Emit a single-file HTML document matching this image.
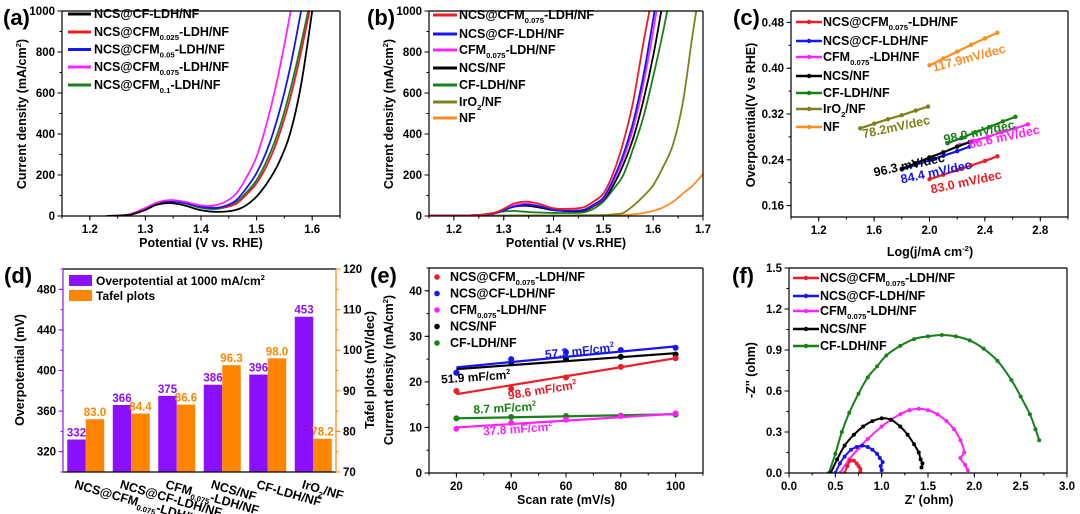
<!DOCTYPE html>
<html><head><meta charset="utf-8">
<style>
html,body{margin:0;padding:0;background:#fff;}
svg{display:block;font-family:"Liberation Sans",Arial,sans-serif;font-weight:bold;}
</style></head>
<body>
<svg id="fig" width="1080" height="514" viewBox="0 0 1080 514" xmlns="http://www.w3.org/2000/svg"></svg>
<script>
// ---------- DATA ----------
// Panel (a)
const aV = [1.23,1.27,1.30,1.32,1.345,1.37,1.40,1.43,1.46,1.48,1.50,1.52,1.54,1.56,1.58,1.60,1.62];
const aBlack   = [0,5,30,55,63,52,28,20,28,50,95,165,260,400,640,1000,1400];
const aRed     = [0,6,35,60,75,65,50,40,55,100,160,255,390,570,800,1070,1400];
const aBlue    = [0,6,35,60,72,64,45,40,70,130,210,330,500,720,1000,1300,1600];
const aMagenta = [0,8,40,65,78,70,52,55,100,180,290,470,700,980,1280,1600,1900];
const aGreen   = [0,6,35,58,70,62,40,35,60,110,175,280,420,610,840,1100,1400];
const aLabels = ["NCS@CF-LDH/NF","NCS@CFM_{0.025}-LDH/NF","NCS@CFM_{0.05}-LDH/NF","NCS@CFM_{0.075}-LDH/NF","NCS@CFM_{0.1}-LDH/NF"];
// Panel (b)
const bV = [1.15,1.20,1.25,1.28,1.30,1.32,1.345,1.37,1.40,1.43,1.46,1.48,1.50,1.52,1.54,1.56,1.58,1.60,1.62,1.64,1.66,1.68,1.70];
const bRed     = [2,2,5,15,35,60,70,60,38,35,42,70,110,210,360,560,840,1100,1400,1600,1800,2000,2200];
const bBlue    = [2,2,5,12,28,45,55,48,30,25,30,55,90,180,300,460,680,960,1250,1500,1700,1900,2100];
const bMagenta = [2,2,5,12,30,50,60,50,32,27,30,52,85,170,280,430,640,900,1200,1450,1650,1850,2050];
const bBlack   = [2,2,5,12,28,45,50,42,28,24,26,48,80,150,250,380,560,780,1050,1300,1500,1700,1900];
const bGreen   = [2,2,5,15,22,25,20,17,15,15,18,35,70,130,200,330,480,680,900,1150,1400,1600,1800];
const bOlive   = [2,2,2,2,3,3,3,3,3,3,4,4,5,8,15,50,95,150,240,350,560,900,1200];
const bOrange  = [2,2,2,2,2,2,2,2,2,2,2,3,3,4,5,8,14,25,42,70,110,150,205];
const bLabels = ["NCS@CFM_{0.075}-LDH/NF","NCS@CF-LDH/NF","CFM_{0.075}-LDH/NF","NCS/NF","CF-LDH/NF","IrO_{2}/NF","NF"];
// Panel (c)
const cRedX = [2.00,2.10,2.20,2.30,2.40,2.49];      const cRedY = [0.206,0.214,0.222,0.230,0.238,0.246];
const cBlueX = [1.80,1.90,2.00,2.10,2.20,2.29];     const cBlueY = [0.223,0.231,0.239,0.247,0.255,0.263];
const cMagX = [2.22,2.32,2.42,2.52,2.62,2.71];      const cMagY = [0.266,0.273,0.280,0.288,0.295,0.302];
const cBlackX = [1.80,1.90,2.00,2.10,2.20,2.29];    const cBlackY = [0.224,0.234,0.244,0.253,0.263,0.271];
const cGreenX = [2.13,2.23,2.33,2.43,2.53,2.62];    const cGreenY = [0.269,0.278,0.288,0.297,0.307,0.315];
const cOliveX = [1.50,1.60,1.70,1.80,1.90,1.99];    const cOliveY = [0.295,0.303,0.311,0.318,0.326,0.333];
const cOrangeX = [2.00,2.10,2.20,2.30,2.40,2.49];   const cOrangeY = [0.405,0.417,0.429,0.441,0.452,0.462];
const cLabels = ["NCS@CFM_{0.075}-LDH/NF","NCS@CF-LDH/NF","CFM_{0.075}-LDH/NF","NCS/NF","CF-LDH/NF","IrO_{2}/NF","NF"];
const cSlopes = ["83.0 mV/dec","84.4 mV/dec","86.6 mV/dec","96.3 mV/dec","98.0 mV/dec","78.2mV/dec","117.9mV/dec"];
// Panel (d)
const dCats = ["NCS@CFM_{0.075}-LDH/NF","NCS@CF-LDH/NF","CFM_{0.075}-LDH/NF","NCS/NF","CF-LDH/NF","IrO_{2}/NF"];
const dOver = [332,366,375,386,396,453];
const dTafel = [83.0,84.4,86.6,96.3,98.0,78.2];
// Panel (e)
const eRate = [20,40,60,80,100];
const eRed = [18.0,18.5,21.0,23.3,25.2];     const eRedFit = [17.3,25.2];
const eBlue = [22.0,25.0,26.5,27.0,27.5];    const eBlueFit = [23.2,27.8];
const eMag = [9.7,11.0,11.7,12.5,13.1];      const eMagFit = [10.0,13.0];
const eBlack = [22.0,24.3,25.0,25.5,26.0];   const eBlackFit = [22.8,26.3];
const eGreen = [12.0,12.3,12.5,12.6,12.8];   const eGreenFit = [12.0,12.9];
const eLabels = ["NCS@CFM_{0.075}-LDH/NF","NCS@CF-LDH/NF","CFM_{0.075}-LDH/NF","NCS/NF","CF-LDH/NF"];
// Panel (f)
const fRedX = [0.60,0.63,0.66,0.70,0.73,0.75,0.77,0.77];
const fRedY = [0.00,0.05,0.09,0.09,0.07,0.05,0.03,0.01];
const fBlueX = [0.50,0.55,0.60,0.67,0.73,0.79,0.85,0.90,0.95,0.98,1.01,0.99,1.00];
const fBlueY = [0.00,0.07,0.12,0.17,0.19,0.20,0.19,0.17,0.14,0.11,0.08,0.05,0.02];
const fBlackX = [0.45,0.52,0.60,0.70,0.80,0.90,1.00,1.10,1.20,1.28,1.35,1.40,1.42,1.44,1.43];
const fBlackY = [0.00,0.10,0.20,0.28,0.34,0.38,0.40,0.39,0.34,0.28,0.21,0.15,0.10,0.07,0.04];
const fMagX = [0.55,0.65,0.75,0.85,1.00,1.10,1.20,1.30,1.40,1.50,1.60,1.70,1.78,1.85,1.89,1.85,1.90,1.93];
const fMagY = [0.00,0.10,0.18,0.25,0.34,0.39,0.43,0.46,0.47,0.46,0.43,0.38,0.32,0.24,0.15,0.11,0.06,0.02];
const fGreenX = [0.43,0.50,0.57,0.65,0.75,0.85,0.95,1.05,1.20,1.35,1.50,1.65,1.80,1.95,2.10,2.25,2.40,2.50,2.60,2.66,2.70];
const fGreenY = [0.00,0.14,0.30,0.44,0.58,0.70,0.78,0.86,0.93,0.98,1.00,1.01,1.00,0.97,0.91,0.82,0.68,0.56,0.43,0.32,0.24];
const fLabels = ["NCS@CFM_{0.075}-LDH/NF","NCS@CF-LDH/NF","CFM_{0.075}-LDH/NF","NCS/NF","CF-LDH/NF"];

// ---------- HELPERS ----------
const NS = 'http://www.w3.org/2000/svg';
const svg = document.getElementById('fig');
const C = {red:'#ee1c25',blue:'#1515f5',mag:'#ff22ff',black:'#000',green:'#178017',olive:'#80801a',orange:'#ff8c1f',purple:'#8b10ff',barOrange:'#ff8400'};
function mk(tag, attrs, parent, name){
  const e = document.createElementNS(NS, tag);
  for (const k in attrs) e.setAttribute(k, attrs[k]);
  
  
  (parent || svg).appendChild(e);
  return e;
}
function lin(d0,d1,r0,r1){ return v => r0 + (v-d0)/(d1-d0)*(r1-r0); }
function rich(p, x, y, s, o, name){
  const t = mk('text', Object.assign({x:x,y:y,'font-size':12,fill:'#000'}, o||{}), p, name);
  const fs = +(o && o['font-size'] || 12);
  const re = /([_^])\{([^}]*)\}|[^_^]+/g; let m, shift=0;
  while ((m = re.exec(s))){
    const ts = document.createElementNS(NS,'tspan');
    if (m[1]){
      const d = m[1]==='_' ? fs*0.3 : -fs*0.4;
      ts.setAttribute('dy', d - shift); shift = d;
      ts.setAttribute('font-size', fs*0.62);
      ts.textContent = m[2];
    } else {
      if (shift){ ts.setAttribute('dy', -shift); shift = 0; }
      ts.textContent = m[0];
    }
    t.appendChild(ts);
  }
  return t;
}
function smooth(pts){
  let d = 'M'+pts[0][0]+','+pts[0][1];
  for (let i=0;i<pts.length-1;i++){
    const p0=pts[Math.max(0,i-1)], p1=pts[i], p2=pts[i+1], p3=pts[Math.min(pts.length-1,i+2)];
    const c1=[p1[0]+(p2[0]-p0[0])/6, p1[1]+(p2[1]-p0[1])/6];
    const c2=[p2[0]-(p3[0]-p1[0])/6, p2[1]-(p3[1]-p1[1])/6];
    d += ' C'+c1[0]+','+c1[1]+' '+c2[0]+','+c2[1]+' '+p2[0]+','+p2[1];
  }
  return d;
}
let clipN = 0;
function panel(P, name){
  const g = mk('g', {}, svg, name);
  const id = 'clip'+(clipN++);
  const cp = mk('clipPath', {id:id}, g, name+'-clip');
  mk('rect', {x:P.x0, y:P.y0, width:P.x1-P.x0, height:P.y1-P.y0}, cp, name+'-clip-rect');
  const plot = mk('g', {'clip-path':'url(#'+id+')'}, g, name+'-plot-area');
  return {g, plot};
}
function frame(g, P, name, leftColor, rightColor){
  mk('line',{x1:P.x0,y1:P.y0,x2:P.x1,y2:P.y0,stroke:'#000','stroke-width':1.2},g,name+'-top-border');
  mk('line',{x1:P.x0,y1:P.y1,x2:P.x1,y2:P.y1,stroke:'#000','stroke-width':1.2},g,name+'-x-axis-line');
  mk('line',{x1:P.x0,y1:P.y0,x2:P.x0,y2:P.y1,stroke:leftColor||'#000','stroke-width':1.2},g,name+'-y-axis-line');
  mk('line',{x1:P.x1,y1:P.y0,x2:P.x1,y2:P.y1,stroke:rightColor||'#000','stroke-width':1.2},g,name+'-right-border');
}
function xTicks(g, P, sx, ticks, minors, fmt, name){
  minors.forEach(v=>{ mk('line',{x1:sx(v),y1:P.y1,x2:sx(v),y2:P.y1+2.5,stroke:'#000','stroke-width':1},g,name+'-x-minor-tick'); });
  ticks.forEach(v=>{
    mk('line',{x1:sx(v),y1:P.y1,x2:sx(v),y2:P.y1+4.5,stroke:'#000','stroke-width':1},g,name+'-x-tick');
    const t = mk('text',{x:sx(v),y:P.y1+17,'text-anchor':'middle','font-size':11.5},g,name+'-x-tick-label');
    t.textContent = fmt(v);
  });
}
function yTicks(g, P, sy, ticks, minors, fmt, name, side, color){
  const x = side==='right' ? P.x1 : P.x0, dir = side==='right' ? 1 : -1;
  minors.forEach(v=>{ mk('line',{x1:x,y1:sy(v),x2:x+dir*2.5,y2:sy(v),stroke:color||'#000','stroke-width':1},g,name+'-y-minor-tick'); });
  ticks.forEach(v=>{
    mk('line',{x1:x,y1:sy(v),x2:x+dir*4.5,y2:sy(v),stroke:color||'#000','stroke-width':1},g,name+'-y-tick');
    const t = mk('text',{x:x+dir*7,y:sy(v)+4,'text-anchor':side==='right'?'start':'end','font-size':11.5},g,name+'-y-tick-label');
    t.textContent = fmt(v);
  });
}
function range(a,b,s){ const r=[]; for(let v=a; v<=b+1e-9; v+=s) r.push(+v.toFixed(6)); return r; }
function title(g, x, y, s, rot, name, fs){
  const o = {'text-anchor':'middle','font-size':fs||12.5};
  if (rot) o.transform = 'rotate(-90 '+x+' '+y+')';
  return rich(g, x, y, s, o, name);
}
function panelLabel(x,y,s,name){ const t = mk('text',{x:x,y:y,'font-size':22},svg,name); t.textContent=s; }

// ---------- PANEL A ----------
(function(){
  const P={x0:62,x1:340,y0:11,y1:216};
  const sx=lin(1.15,1.65,P.x0,P.x1), sy=lin(0,1000,P.y1,P.y0);
  const {g,plot}=panel(P,'panel-a');
  const series=[[aGreen,C.green],[aRed,C.red],[aBlue,C.blue],[aMagenta,C.mag],[aBlack,C.black]];
  const names=['curve-cfm-0.1','curve-cfm-0.025','curve-cfm-0.05','curve-cfm-0.075','curve-cf-ldh'];
  series.forEach((s,i)=>{
    mk('path',{d:smooth(aV.map((v,j)=>[sx(v),sy(s[0][j])])),fill:'none',stroke:s[1],'stroke-width':1.8},plot,names[i]);
  });
  frame(g,P,'panel-a');
  xTicks(g,P,sx,range(1.2,1.6,0.1),range(1.15,1.65,0.05),v=>v.toFixed(1),'panel-a');
  yTicks(g,P,sy,range(0,1000,200),range(0,1000,100),v=>String(v),'panel-a');
  title(g,201,247,'Potential (V  vs. RHE)',false,'panel-a-x-axis-title');
  title(g,26,114,'Current density (mA/cm^{2})',true,'panel-a-y-axis-title');
  const cols=[C.black,C.red,C.blue,C.mag,C.green], ys=[18,36,53.5,71,89];
  aLabels.forEach((l,i)=>{
    mk('line',{x1:68,y1:ys[i]-4,x2:91,y2:ys[i]-4,stroke:cols[i],'stroke-width':3},g,'legend-a-swatch');
    rich(g,94,ys[i],l,{'font-size':12.5},'legend-a-entry');
  });
  panelLabel(3,25,'(a)','panel-a-label');
})();

// ---------- PANEL B ----------
(function(){
  const P={x0:429,x1:703,y0:11,y1:216};
  const sx=lin(1.15,1.7,P.x0,P.x1), sy=lin(0,1000,P.y1,P.y0);
  const {g,plot}=panel(P,'panel-b');
  const series=[[bOrange,C.orange],[bOlive,C.olive],[bGreen,C.green],[bBlack,C.black],[bMagenta,C.mag],[bBlue,C.blue],[bRed,C.red]];
  const names=['curve-nf','curve-iro2','curve-cf-ldh','curve-ncs','curve-cfm-0.075','curve-ncs-cf-ldh','curve-ncs-cfm-0.075'];
  series.forEach((s,i)=>{
    mk('path',{d:smooth(bV.map((v,j)=>[sx(v),sy(s[0][j])])),fill:'none',stroke:s[1],'stroke-width':1.8},plot,names[i]);
  });
  frame(g,P,'panel-b');
  xTicks(g,P,sx,range(1.2,1.7,0.1),range(1.15,1.7,0.05),v=>v.toFixed(1),'panel-b');
  yTicks(g,P,sy,range(0,1000,200),range(0,1000,100),v=>String(v),'panel-b');
  title(g,566,247,'Potential (V vs.RHE)',false,'panel-b-x-axis-title');
  title(g,393,114,'Current density (mA/cm^{2})',true,'panel-b-y-axis-title');
  const cols=[C.red,C.blue,C.mag,C.black,C.green,C.olive,C.orange], ys=[19,38,54,72,89,106,122];
  bLabels.forEach((l,i)=>{
    mk('line',{x1:433,y1:ys[i]-4,x2:457,y2:ys[i]-4,stroke:cols[i],'stroke-width':3},g,'legend-b-swatch');
    rich(g,459,ys[i],l,{'font-size':12.5},'legend-b-entry');
  });
  panelLabel(367,25,'(b)','panel-b-label');
})();

// ---------- PANEL C ----------
(function(){
  const P={x0:791,x1:1068,y0:11,y1:217};
  const sx=lin(1.0,3.0,P.x0,P.x1), sy=lin(0.14,0.50,P.y1,P.y0);
  const {g,plot}=panel(P,'panel-c');
  const series=[[cRedX,cRedY,C.red],[cBlueX,cBlueY,C.blue],[cMagX,cMagY,C.mag],[cBlackX,cBlackY,C.black],[cGreenX,cGreenY,C.green],[cOliveX,cOliveY,C.olive],[cOrangeX,cOrangeY,C.orange]];
  const names=['tafel-ncs-cfm-0.075','tafel-ncs-cf-ldh','tafel-cfm-0.075','tafel-ncs','tafel-cf-ldh','tafel-iro2','tafel-nf'];
  series.forEach((s,i)=>{
    mk('polyline',{points:s[0].map((x,j)=>sx(x)+','+sy(s[1][j])).join(' '),fill:'none',stroke:s[2],'stroke-width':2.2},plot,names[i]);
    s[0].forEach((x,j)=>{ mk('circle',{cx:sx(x),cy:sy(s[1][j]),r:2.2,fill:s[2]},plot,names[i]+'-point'); });
  });
  frame(g,P,'panel-c');
  xTicks(g,P,sx,range(1.2,2.8,0.4),range(1.0,3.0,0.2),v=>v.toFixed(1),'panel-c');
  yTicks(g,P,sy,range(0.16,0.48,0.08),range(0.16,0.48,0.04),v=>v.toFixed(2),'panel-c');
  title(g,930,256,'Log(j/mA cm^{-2})',false,'panel-c-x-axis-title');
  title(g,755,115,'Overpotential(V vs RHE)',true,'panel-c-y-axis-title');
  const cols=[C.red,C.blue,C.mag,C.black,C.green,C.olive,C.orange], ys=[26,45,61,80,97,113,131];
  cLabels.forEach((l,i)=>{
    mk('line',{x1:796,y1:ys[i]-4,x2:822,y2:ys[i]-4,stroke:cols[i],'stroke-width':2.5},g,'legend-c-swatch');
    mk('circle',{cx:809,cy:ys[i]-4,r:2.2,fill:cols[i]},g,'legend-c-marker');
    rich(g,823,ys[i],l,{'font-size':12.5},'legend-c-entry');
  });
  const lp=[[967,186,-12],[937,176,-12],[1005,141,-12],[910,169,-12],[980,136,-12],[897,131,-12],[970,62,-15]];
  cSlopes.forEach((s,i)=>{
    const t=mk('text',{x:lp[i][0],y:lp[i][1],'text-anchor':'middle','font-size':12.5,fill:cols[i],transform:'rotate('+lp[i][2]+' '+lp[i][0]+' '+lp[i][1]+')'},g,'slope-label');
    t.textContent=s;
  });
  panelLabel(733,25,'(c)','panel-c-label');
})();

// ---------- PANEL D ----------
(function(){
  const P={x0:63,x1:336,y0:269,y1:472};
  const sy=lin(300,500,P.y1,P.y0), sy2=lin(70,120,P.y1,P.y0);
  const band=(P.x1-P.x0)/dCats.length, bw=18.5;
  const cx=i=>P.x0+band*(i+0.5);
  const {g,plot}=panel(P,'panel-d');
  dOver.forEach((v,i)=>{
    mk('rect',{x:cx(i)-bw,y:sy(v),width:bw,height:P.y1-sy(v),fill:C.purple},plot,'bar-overpotential');
    const t=mk('text',{x:cx(i)-bw/2,y:sy(v)-3,'text-anchor':'middle','font-size':11.5,fill:C.purple},g,'bar-overpotential-value');
    t.textContent=String(v);
  });
  dTafel.forEach((v,i)=>{
    mk('rect',{x:cx(i),y:sy2(v),width:bw,height:P.y1-sy2(v),fill:C.barOrange},plot,'bar-tafel');
    const t=mk('text',{x:cx(i)+bw/2,y:sy2(v)-3,'text-anchor':'middle','font-size':11.5,fill:C.barOrange},g,'bar-tafel-value');
    t.textContent=v.toFixed(1);
  });
  frame(g,P,'panel-d',C.purple,C.barOrange);
  yTicks(g,P,sy,range(320,480,40),range(300,500,20),v=>String(v),'panel-d','left',C.purple);
  yTicks(g,P,sy2,range(70,120,10),range(70,120,5),v=>String(v),'panel-d-right','right',C.barOrange);
  dCats.forEach((c,i)=>{
    const x=cx(i)-12, y=488;
    rich(g,x,y,c,{'font-size':12.5,transform:'rotate(16 '+x+' '+y+')'},'panel-d-category-label');
  });
  title(g,24,370,'Overpotential (mV)',true,'panel-d-y-axis-title');
  title(g,374,370,'Tafel plots (mV/dec)',true,'panel-d-right-axis-title');
  mk('rect',{x:69,y:275,width:23,height:11,fill:C.purple},g,'legend-d-swatch-overpotential');
  rich(g,96,285,'Overpotential at 1000 mA/cm^{2}',{'font-size':12},'legend-d-entry');
  mk('rect',{x:69,y:290,width:23,height:11,fill:C.barOrange},g,'legend-d-swatch-tafel');
  rich(g,96,300,'Tafel plots',{'font-size':12},'legend-d-entry');
  panelLabel(4,283,'(d)','panel-d-label');
})();

// ---------- PANEL E ----------
(function(){
  const P={x0:429,x1:703,y0:268,y1:473};
  const sx=lin(10,110,P.x0,P.x1), sy=lin(0,45,P.y1,P.y0);
  const {g,plot}=panel(P,'panel-e');
  const series=[[eGreen,eGreenFit,C.green],[eMag,eMagFit,C.mag],[eBlack,eBlackFit,C.black],[eRed,eRedFit,C.red],[eBlue,eBlueFit,C.blue]];
  const names=['cdl-cf-ldh','cdl-cfm-0.075','cdl-ncs','cdl-ncs-cfm-0.075','cdl-ncs-cf-ldh'];
  series.forEach((s,i)=>{
    mk('line',{x1:sx(eRate[0]),y1:sy(s[1][0]),x2:sx(eRate[eRate.length-1]),y2:sy(s[1][1]),stroke:s[2],'stroke-width':2.2},plot,names[i]+'-fit');
    eRate.forEach((r,j)=>{ mk('circle',{cx:sx(r),cy:sy(s[0][j]),r:3,fill:s[2]},plot,names[i]+'-point'); });
  });
  frame(g,P,'panel-e');
  xTicks(g,P,sx,range(20,100,20),range(10,110,10),v=>String(v),'panel-e');
  yTicks(g,P,sy,range(0,40,10),range(0,45,5),v=>String(v),'panel-e');
  title(g,566,504,'Scan rate (mV/s)',false,'panel-e-x-axis-title');
  title(g,393,370,'Current density (mA/cm^{2})',true,'panel-e-y-axis-title');
  const cols=[C.red,C.blue,C.mag,C.black,C.green], ys=[281,297.5,314,330.5,347];
  eLabels.forEach((l,i)=>{
    mk('circle',{cx:437,cy:ys[i]-4,r:2.8,fill:cols[i]},g,'legend-e-marker');
    rich(g,450,ys[i],l,{'font-size':12.5},'legend-e-entry');
  });
  const lab=[['57.3 mF/cm^{2}',C.blue,580,355,-6],['51.9 mF/cm^{2}',C.black,476,381,-4],['98.6 mF/cm^{2}',C.red,543,394,-9],['8.7 mF/cm^{2}',C.green,505,412,-3],['37.8 mF/cm^{2}',C.mag,518,433,-4]];
  lab.forEach(l=>{ rich(g,l[2],l[3],l[0],{'font-size':12,fill:l[1],'text-anchor':'middle',transform:'rotate('+l[4]+' '+l[2]+' '+l[3]+')'},'capacitance-label'); });
  panelLabel(370,283,'(e)','panel-e-label');
})();

// ---------- PANEL F ----------
(function(){
  const P={x0:789,x1:1067,y0:268,y1:473};
  const sx=lin(0,3.0,P.x0,P.x1), sy=lin(0,1.5,P.y1,P.y0);
  const {g,plot}=panel(P,'panel-f');
  const series=[[fGreenX,fGreenY,C.green],[fMagX,fMagY,C.mag],[fBlackX,fBlackY,C.black],[fBlueX,fBlueY,C.blue],[fRedX,fRedY,C.red]];
  const names=['nyquist-cf-ldh','nyquist-cfm-0.075','nyquist-ncs','nyquist-ncs-cf-ldh','nyquist-ncs-cfm-0.075'];
  series.forEach((s,i)=>{
    mk('path',{d:smooth(s[0].map((x,j)=>[sx(x),sy(s[1][j])])),fill:'none',stroke:s[2],'stroke-width':2},plot,names[i]);
    s[0].forEach((x,j)=>{ mk('circle',{cx:sx(x),cy:sy(s[1][j]),r:2,fill:s[2]},plot,names[i]+'-point'); });
  });
  frame(g,P,'panel-f');
  xTicks(g,P,sx,range(0,3,0.5),range(0,3,0.25),v=>v.toFixed(1),'panel-f');
  yTicks(g,P,sy,range(0,1.5,0.3),range(0,1.5,0.15),v=>v.toFixed(1),'panel-f');
  title(g,929,504,"Z' (ohm)",false,'panel-f-x-axis-title');
  title(g,755,370,"-Z'' (ohm)",true,'panel-f-y-axis-title');
  const cols=[C.red,C.blue,C.mag,C.black,C.green], ys=[282,300,315,333,350];
  fLabels.forEach((l,i)=>{
    mk('line',{x1:793,y1:ys[i]-4,x2:819,y2:ys[i]-4,stroke:cols[i],'stroke-width':2.5},g,'legend-f-swatch');
    mk('circle',{cx:806,cy:ys[i]-4,r:2.2,fill:cols[i]},g,'legend-f-marker');
    rich(g,820,ys[i],l,{'font-size':12.5},'legend-f-entry');
  });
  panelLabel(732,283,'(f)','panel-f-label');
})();
</script>
</body></html>
